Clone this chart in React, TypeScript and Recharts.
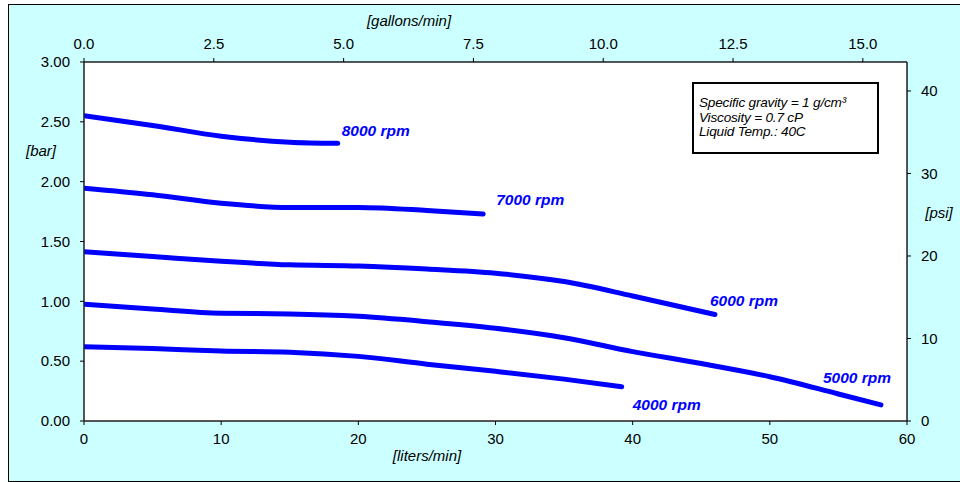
import React from 'react'
import { LineChart, Line, XAxis, YAxis, CartesianGrid } from 'recharts'

// pump curves: flow in liters/min (q) vs pressure in bar (p)
const rpm8000 = [
  { q: 0, p: 2.55 },
  { q: 5, p: 2.47 },
  { q: 10, p: 2.38 },
  { q: 15, p: 2.33 },
  { q: 18.5, p: 2.32 },
]
const rpm7000 = [
  { q: 0, p: 1.945 },
  { q: 5, p: 1.89 },
  { q: 10, p: 1.82 },
  { q: 15, p: 1.785 },
  { q: 20, p: 1.785 },
  { q: 25, p: 1.76 },
  { q: 29.1, p: 1.73 },
]
const rpm6000 = [
  { q: 0, p: 1.415 },
  { q: 5, p: 1.375 },
  { q: 10, p: 1.335 },
  { q: 15, p: 1.305 },
  { q: 20, p: 1.295 },
  { q: 25, p: 1.27 },
  { q: 30, p: 1.235 },
  { q: 35, p: 1.165 },
  { q: 40, p: 1.045 },
  { q: 46, p: 0.89 },
]
const rpm5000 = [
  { q: 0, p: 0.975 },
  { q: 5, p: 0.935 },
  { q: 10, p: 0.9 },
  { q: 15, p: 0.895 },
  { q: 20, p: 0.875 },
  { q: 25, p: 0.83 },
  { q: 30, p: 0.775 },
  { q: 35, p: 0.696 },
  { q: 40, p: 0.58 },
  { q: 45, p: 0.48 },
  { q: 50, p: 0.37 },
  { q: 55, p: 0.226 },
  { q: 58.1, p: 0.135 },
]
const rpm4000 = [
  { q: 0, p: 0.62 },
  { q: 5, p: 0.605 },
  { q: 10, p: 0.585 },
  { q: 15, p: 0.575 },
  { q: 20, p: 0.54 },
  { q: 25, p: 0.475 },
  { q: 30, p: 0.415 },
  { q: 35, p: 0.35 },
  { q: 39.2, p: 0.287 },
]

const curveNames = ['8000 rpm', '7000 rpm', '6000 rpm', '5000 rpm', '4000 rpm']
const curveData = [rpm8000, rpm7000, rpm6000, rpm5000, rpm4000]

const literTicks = [0, 10, 20, 30, 40, 50, 60]
const gallonTicks = [0, 2.5, 5, 7.5, 10, 12.5, 15]
const barTicks = [0, 0.5, 1, 1.5, 2, 2.5, 3]
const psiTicks = [0, 10, 20, 30, 40]

const infoLines = ['Specific gravity = 1 g/cm\u00b3', 'Viscosity = 0.7 cP', 'Liquid Temp.: 40C']

const LITERS_PER_GALLON = 3.785411784
const PSI_PER_BAR = 14.5038

// where each curve's name sits relative to its last point
const labelNudge: [number, number][] = [
  [4, -13],
  [13, -14],
  [-5, -14],
  [-58, -27],
  [11, 18],
]

const FONT = '"Liberation Sans", Arial, sans-serif'
const tickStyle = { fill: '#000', fontSize: 15, fontFamily: FONT }
const axisLineStyle = { stroke: '#222', strokeWidth: 1.5 }

const titleStyle = (x: number, y: number): React.CSSProperties => ({
  position: 'absolute',
  left: x,
  top: y,
  transform: 'translate(-50%, -50%)',
  fontFamily: FONT,
  fontStyle: 'italic',
  fontSize: 15,
  whiteSpace: 'nowrap',
})

export default function App() {
  return (
    <div
      style={{
        position: 'absolute',
        left: 8,
        top: 4,
        width: 952,
        height: 478,
        boxSizing: 'border-box',
        background: '#ccffff',
        border: '1px solid #000',
        borderRight: 'none',
      }}
    >
      <LineChart width={951} height={477} margin={{ top: 27, right: 23, bottom: 31, left: 45 }}>
        <rect x={75} y={57} width={823} height={359} fill="#fff" />
        <CartesianGrid xAxisId="l" yAxisId="bar" stroke="#cccccc" strokeWidth={1.5} />
        <XAxis
          xAxisId="l"
          dataKey="q"
          type="number"
          domain={[0, 60]}
          ticks={literTicks}
          allowDataOverflow
          height={30}
          tick={tickStyle}
          tickSize={4}
          tickMargin={8}
          stroke="#000"
          axisLine={axisLineStyle}
        />
        {/* gallons scale: same liters domain, ticks placed at whole gallon steps */}
        <XAxis
          xAxisId="g"
          dataKey="q"
          orientation="top"
          type="number"
          domain={[0, 60]}
          ticks={gallonTicks.map((g) => g * LITERS_PER_GALLON)}
          allowDataOverflow
          height={30}
          tick={tickStyle}
          tickFormatter={(v: number) => (v / LITERS_PER_GALLON).toFixed(1)}
          tickSize={4}
          tickMargin={9}
          stroke="#000"
          axisLine={axisLineStyle}
        />
        <YAxis
          yAxisId="bar"
          type="number"
          domain={[0, 3]}
          ticks={barTicks}
          allowDataOverflow
          width={30}
          tick={tickStyle}
          tickFormatter={(v: number) => v.toFixed(2)}
          tickSize={4}
          tickMargin={10}
          stroke="#000"
          axisLine={axisLineStyle}
        />
        <YAxis
          yAxisId="psi"
          orientation="right"
          type="number"
          domain={[0, 3 * PSI_PER_BAR]}
          ticks={psiTicks}
          allowDataOverflow
          width={30}
          tick={tickStyle}
          tickSize={4}
          tickMargin={10}
          stroke="#000"
          axisLine={axisLineStyle}
        />
        {/* keeps the top scale registered; draws nothing */}
        <Line
          data={rpm8000}
          xAxisId="g"
          yAxisId="bar"
          dataKey="p"
          stroke="none"
          dot={false}
          activeDot={false}
          isAnimationActive={false}
        />
        {curveData.map((data, i) => (
          <Line
            key={curveNames[i]}
            data={data}
            xAxisId="l"
            yAxisId="bar"
            dataKey="p"
            type="monotone"
            stroke="#0000ff"
            strokeWidth={5}
            strokeLinecap="round"
            dot={false}
            isAnimationActive={false}
            label={(props: any) =>
              props.index === data.length - 1 ? (
                <text
                  key={curveNames[i]}
                  x={props.x + labelNudge[i][0]}
                  y={props.y + labelNudge[i][1]}
                  dominantBaseline="central"
                  textAnchor="start"
                  fill="#0000ff"
                  fontFamily={FONT}
                  fontSize={15.5}
                  fontWeight="bold"
                  fontStyle="italic"
                >
                  {curveNames[i]}
                </text>
              ) : (
                <g key={`${curveNames[i]}-${props.index}`} />
              )
            }
          />
        ))}
      </LineChart>

      <div style={titleStyle(400, 15)}>[gallons/min]</div>
      <div style={titleStyle(418, 450)}>[liters/min]</div>
      <div style={titleStyle(32, 145)}>[bar]</div>
      <div style={titleStyle(930, 207)}>[psi]</div>

      <div
        style={{
          position: 'absolute',
          left: 683,
          top: 77,
          width: 187,
          height: 72,
          boxSizing: 'border-box',
          background: '#fff',
          border: '2px solid #000',
          padding: '12px 0 0 5px',
          fontFamily: FONT,
          fontStyle: 'italic',
          fontSize: 13.6,
          lineHeight: '14.5px',
          letterSpacing: -0.2,
          whiteSpace: 'nowrap',
        }}
      >
        {infoLines.map((t) => (
          <div key={t}>{t}</div>
        ))}
      </div>
    </div>
  )
}
